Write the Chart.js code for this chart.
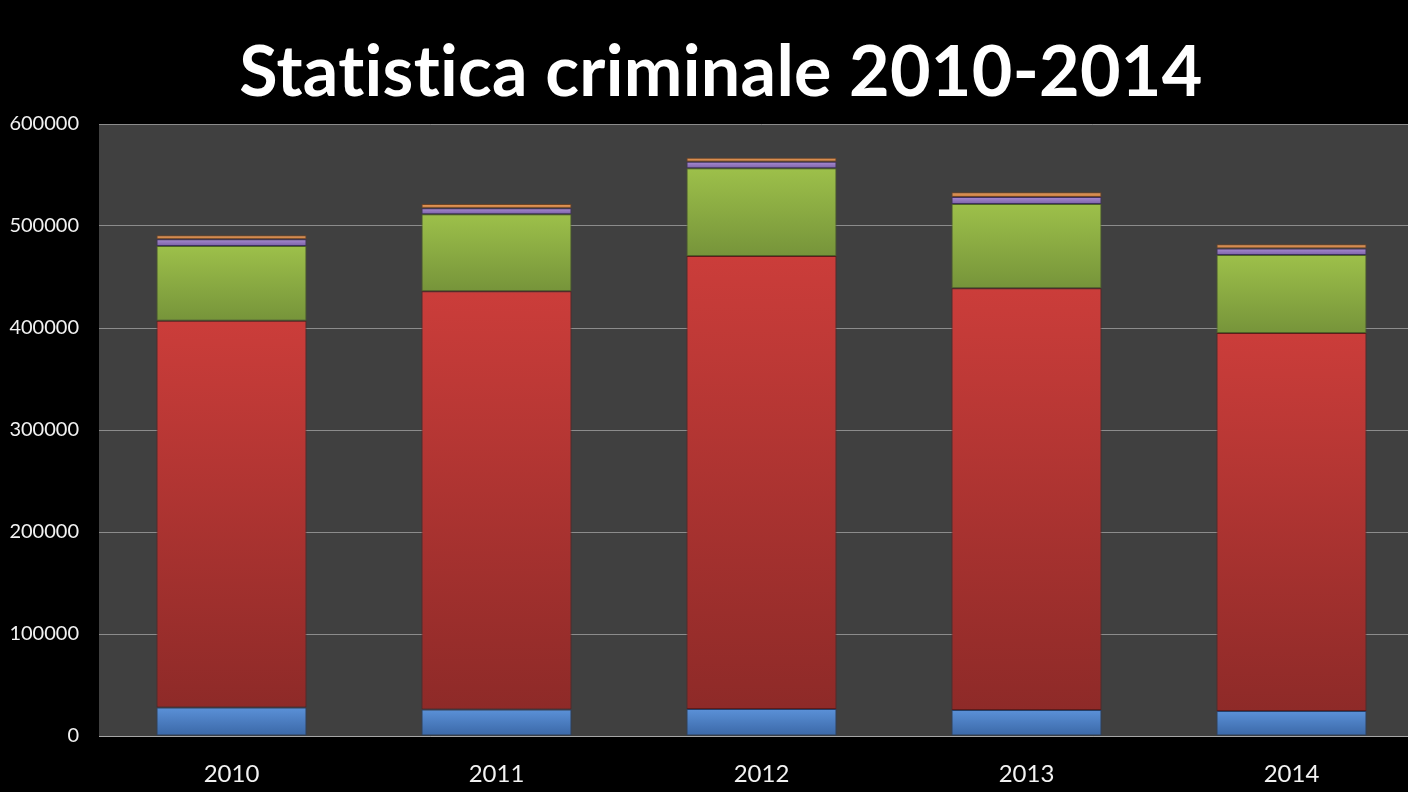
<!DOCTYPE html>
<html>
<head>
<meta charset="utf-8">
<title>Statistica criminale 2010-2014</title>
<script src="https://cdn.jsdelivr.net/npm/chart.js@4.4.1/dist/chart.umd.min.js"></script>
<style>
  html, body { margin: 0; padding: 0; background: #000; overflow: hidden; }
  #wrap { width: 1424px; height: 792px; }
</style>
</head>
<body>
<div id="wrap"><canvas id="grafica" width="1424" height="792"></canvas></div>
<script>
// dati
var anni = ['2010', '2011', '2012', '2013', '2014'];
var serieBlu = [28000, 26000, 26500, 25500, 24500];
var serieRossa = [379000, 410000, 444000, 413500, 370500];
var serieVerde = [73500, 75500, 86000, 82500, 76500];
var serieViola = [6500, 6000, 6500, 7000, 6500];
var serieArancio = [4000, 4000, 4000, 4500, 4000];
var tickY = [0, 100000, 200000, 300000, 400000, 500000, 600000];

var tutte = [serieBlu, serieRossa, serieVerde, serieViola, serieArancio];

// colori sfumati (alto, basso, bordo)
var colori = [
  ['#5b91d8', '#3a67a6', '#24406a'],
  ['#cb3d3a', '#8e2a28', '#5e1b1a'],
  ['#9dc04a', '#76943a', '#4d6226'],
  ['#a98bd3', '#7b62a6', '#3f3060'],
  ['#eb9d5c', '#c47a40', '#6e4424']
];

function sfumatura(indice) {
  return function(ctx) {
    var chart = ctx.chart;
    var y = chart.scales.y;
    if (!y || ctx.dataIndex === undefined) return colori[indice][0];
    var base = 0;
    for (var k = 0; k < indice; k++) base += tutte[k][ctx.dataIndex];
    var alto = y.getPixelForValue(base + tutte[indice][ctx.dataIndex]);
    var basso = y.getPixelForValue(base);
    if (!isFinite(alto) || !isFinite(basso) || alto === basso) return colori[indice][0];
    var g = chart.ctx.createLinearGradient(0, alto, 0, basso);
    g.addColorStop(0, colori[indice][0]);
    g.addColorStop(1, colori[indice][1]);
    return g;
  };
}

var sfondo = {
  id: 'sfondo',
  beforeDraw: function(chart) {
    var a = chart.chartArea;
    var c = chart.ctx;
    c.save();
    c.fillStyle = '#000';
    c.fillRect(0, 0, chart.width, chart.height);
    c.fillStyle = '#404040';
    c.fillRect(a.left, a.top, a.right - a.left, a.bottom - a.top);
    c.restore();
  },
  afterDraw: function(chart) {
    var c = chart.ctx;
    c.save();
    c.fillStyle = '#ffffff';
    c.font = 'bold 70px Lato';
    c.textAlign = 'center';
    c.textBaseline = 'alphabetic';
    // niente legature "ti"
    c.textRendering = 'optimizeSpeed';
    c.letterSpacing = '0.3px';
    c.fillText('Statistica criminale 2010-2014', 721, 96);
    c.restore();
  }
};

var datasets = tutte.map(function(serie, i) {
  return {
    label: 'Serie ' + (i + 1),
    data: serie,
    backgroundColor: sfumatura(i),
    borderColor: colori[i][2],
    borderWidth: 1,
    borderSkipped: false,
    barPercentage: 0.566,
    categoryPercentage: 1
  };
});

var chart = new Chart(document.getElementById('grafica'), {
  type: 'bar',
  data: { labels: anni, datasets: datasets },
  options: {
    responsive: false,
    animation: false,
    devicePixelRatio: 1,
    layout: { padding: { top: 124, left: 0, right: 0, bottom: 0 } },
    plugins: { legend: { display: false }, tooltip: { enabled: false }, title: { display: false } },
    scales: {
      x: {
        stacked: true,
        grid: { display: false, drawTicks: false },
        border: { display: true, color: '#a6a6a6', width: 1 },
        ticks: { color: '#f2f2f2', font: { family: 'Lato', size: 24 }, padding: 24 },
        afterFit: function(s) { s.height = 56; }
      },
      y: {
        stacked: true,
        min: 0,
        max: 600000,
        afterBuildTicks: function(s) { s.ticks = tickY.map(function(v) { return { value: v }; }); },
        grid: { color: '#8c8c8c', lineWidth: 1, drawTicks: false },
        border: { display: false },
        ticks: {
          color: '#f2f2f2',
          font: { family: 'Lato', size: 20 },
          padding: 20,
          callback: function(v) { return String(v); }
        },
        afterFit: function(s) { s.width = 99; }
      }
    }
  },
  plugins: [sfondo]
});
</script>
</body>
</html>
